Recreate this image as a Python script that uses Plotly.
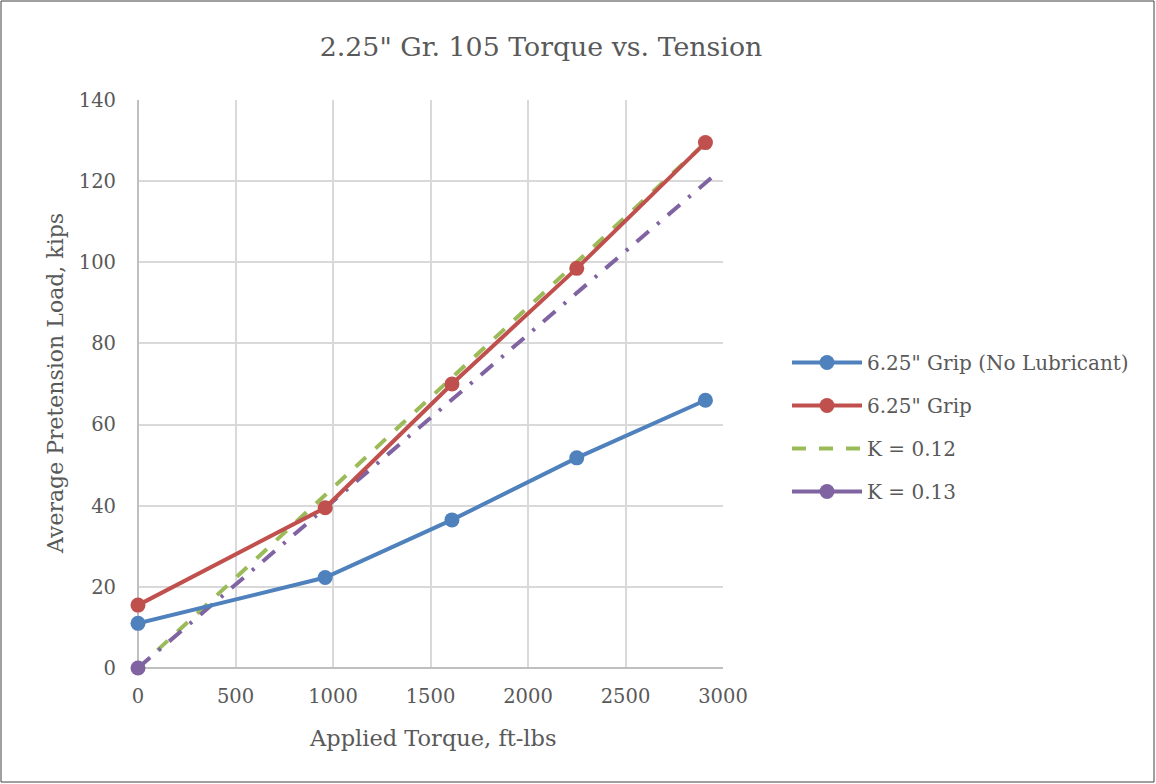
import plotly.graph_objects as go

torque = [0, 960, 1610, 2250, 2910]
no_lube = [11.0, 22.3, 36.5, 51.8, 66.0]
grip = [15.5, 39.5, 70.0, 98.5, 129.5]
k012_x = [100, 2910]
k012_y = [4.4, 129.4]
k013_x = [0, 2945]
k013_y = [0, 121.0]

names = ['6.25" Grip (No Lubricant)', '6.25" Grip', 'K = 0.12', 'K = 0.13']
colors = ['#4F81BD', '#C0504D', '#9BBB59', '#8064A2']
FONT = "DejaVu Serif"
GREY = "#595959"
LW = 4
MS = 15

fig = go.Figure()
fig.add_trace(go.Scatter(x=k012_x, y=k012_y, mode='lines', name=names[2],
                         line=dict(color=colors[2], width=LW, dash='14px,13px'),
                         legendrank=3, legendgroup='c'))
fig.add_trace(go.Scatter(x=k013_x, y=k013_y, mode='lines', showlegend=False,
                         line=dict(color=colors[3], width=LW, dash='16px,11px,3px,11px'),
                         legendgroup='d'))
fig.add_trace(go.Scatter(x=k013_x[:1], y=k013_y[:1], mode='lines+markers', name=names[3],
                         line=dict(color=colors[3], width=LW),
                         marker=dict(color=colors[3], size=MS), cliponaxis=False,
                         legendrank=4, legendgroup='d'))
fig.add_trace(go.Scatter(x=torque, y=no_lube, mode='lines+markers', name=names[0],
                         line=dict(color=colors[0], width=LW),
                         marker=dict(color=colors[0], size=MS), cliponaxis=False,
                         legendrank=1, legendgroup='a'))
fig.add_trace(go.Scatter(x=torque, y=grip, mode='lines+markers', name=names[1],
                         line=dict(color=colors[1], width=LW),
                         marker=dict(color=colors[1], size=MS), cliponaxis=False,
                         legendrank=2, legendgroup='b'))

W, H = 1156, 784
L, R, T, B = 138, 433, 100, 116
pw, ph = W - L - R, H - T - B

fig.update_layout(
    width=W, height=H,
    margin=dict(l=L, r=R, t=T, b=B),
    paper_bgcolor='white', plot_bgcolor='white',
    font=dict(family=FONT, color=GREY, size=18),
    title=dict(text='2.25" Gr. 105 Torque vs. Tension', x=541 / W, xanchor='center', xref='container',
               y=1 - 47 / H, yanchor='middle', yref='container',
               font=dict(size=26.8, color=GREY, family=FONT)),
    legend=dict(x=(787 - L) / pw, y=(668 - 427) / ph, xanchor='left', yanchor='middle',
                traceorder='grouped', tracegroupgap=14, itemwidth=70,
                font=dict(size=20, color=GREY, family=FONT), bgcolor='rgba(0,0,0,0)'),
    showlegend=True,
)
fig.update_xaxes(range=[0, 3000], dtick=500, showgrid=True, gridcolor='#D9D9D9', gridwidth=2,
                 showline=False, zeroline=True, zerolinecolor='#BFBFBF', zerolinewidth=2,
                 ticks='', tickfont=dict(size=19.5, color=GREY), ticklabelstandoff=14)
fig.update_yaxes(range=[0, 140], dtick=20, showgrid=True, gridcolor='#D9D9D9', gridwidth=2,
                 showline=False, zeroline=True, zerolinecolor='#BFBFBF', zerolinewidth=2,
                 ticks='', tickfont=dict(size=19.5, color=GREY), ticklabelstandoff=21)

fig.add_annotation(text='Applied Torque, ft-lbs', xref='paper', yref='paper',
                   x=(433 - L) / pw, y=-(738 - 668) / ph, xanchor='center', yanchor='middle',
                   showarrow=False, font=dict(size=22.5, color=GREY, family=FONT))
fig.add_annotation(text='Average Pretension Load, kips', xref='paper', yref='paper',
                   x=-(138 - 55) / pw, y=0.5, xanchor='center', yanchor='middle', textangle=-90,
                   showarrow=False, font=dict(size=22, color=GREY, family=FONT))

fig.add_shape(type='rect', xref='paper', yref='paper',
              x0=(1 - L) / pw, x1=(W - 2 - L) / pw, y0=-(B - 2) / ph, y1=1 + (T - 1) / ph,
              line=dict(color='#404040', width=1), fillcolor='rgba(0,0,0,0)', layer='below')

fig.write_html("out.html", config={'displayModeBar': False},
               post_script="document.body.style.margin='0';document.body.style.padding='0';")
